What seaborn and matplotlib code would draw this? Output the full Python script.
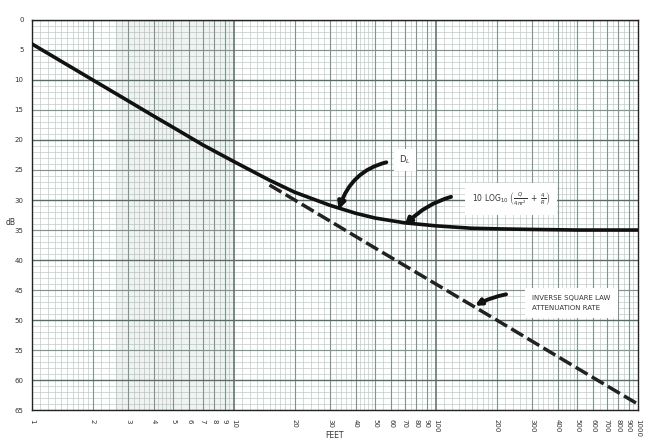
import numpy as np
import pandas as pd
import matplotlib
matplotlib.use("Agg")
import matplotlib.pyplot as plt
import seaborn as sns

# ---- data ----
feet_total = [1, 2, 3, 4, 5, 7, 10, 15, 20, 30, 40, 50, 70, 100, 150, 200, 300, 500, 1000]
db_total = [4.0, 10.0, 13.5, 16.0, 17.9, 20.8, 23.6, 26.7, 28.7, 30.9, 32.2, 33.0, 33.8, 34.3, 34.7, 34.8, 34.9, 35.0, 35.0]

feet_inverse = [15, 20, 50, 100, 200, 500, 1000]
db_inverse = [27.5, 30.0, 38.0, 44.0, 50.0, 58.0, 64.0]

x_tick_values = [1, 2, 3, 4, 5, 6, 7, 8, 9, 10, 20, 30, 40, 50, 60, 70, 80, 90,
                 100, 200, 300, 400, 500, 600, 700, 800, 900, 1000]
x_tick_labels = [str(v) for v in x_tick_values]
y_tick_values = list(range(0, 70, 5))
y_tick_labels = [str(v) for v in y_tick_values]

total_df = pd.DataFrame({"feet": feet_total, "dB": db_total})
inverse_df = pd.DataFrame({"feet": feet_inverse, "dB": db_inverse})

sns.set_theme(style="white")
plt.rcParams['font.family'] = ['DejaVu Sans']

fig = plt.figure(figsize=(6.51, 4.42), dpi=100)
ax = fig.add_axes([0.049, 0.072, 0.931, 0.883])
ax.set_xscale("log")
ax.set_xlim(1, 1000)
ax.set_ylim(65, 0)

# ---- graph-paper grid ----
light = "#b7c8c1"
mid = "#7e948c"
heavy = "#566e65"
for d in [1, 10, 100]:
    fine = list(np.arange(1, 2, 0.1)) + list(np.arange(2, 5, 0.2)) + list(np.arange(5, 10, 0.5))
    for f in fine:
        if abs(f - round(f)) < 1e-9:
            continue
        ax.axvline(round(f, 2) * d, color=light, lw=0.45, zorder=0)
    for k in range(2, 10):
        ax.axvline(k * d, color=mid, lw=0.8, zorder=0.5)
for d in [10, 100]:
    ax.axvline(d, color=heavy, lw=1.1, zorder=0.6)
for yv in range(0, 66):
    if yv % 10 == 0:
        ax.axhline(yv, color=heavy, lw=1.0, zorder=0.6)
    elif yv % 5 == 0:
        ax.axhline(yv, color=mid, lw=0.85, zorder=0.5)
    else:
        ax.axhline(yv, color=light, lw=0.45, zorder=0)
ax.axvspan(2.6, 10, color="#6f8a80", alpha=0.10, zorder=0)

# ---- curves ----
sns.lineplot(data=inverse_df, x="feet", y="dB", ax=ax, color="#222222", lw=2.5,
             zorder=3, legend=False)
ax.lines[-1].set_dashes([4, 1.4])
sns.lineplot(data=total_df, x="feet", y="dB", ax=ax, color="#111111", lw=2.6,
             zorder=4, legend=False)

# ---- ticks ----
ax.set_xticks(x_tick_values)
ax.set_xticklabels(x_tick_labels, rotation=-90, fontsize=5, color="#333333")
ax.xaxis.set_minor_locator(matplotlib.ticker.NullLocator())
ax.set_yticks(y_tick_values)
ax.set_yticklabels(y_tick_labels, fontsize=5, color="#333333")
ax.tick_params(axis="both", length=0, pad=6)
ax.set_xlabel("FEET", fontsize=5.5, color="#333333")
ax.xaxis.set_label_coords(0.5, -0.053)
ax.set_ylabel("dB", fontsize=5.5, color="#333333", rotation=0)
ax.yaxis.set_label_coords(-0.035, 0.47)
for s in ax.spines.values():
    s.set_color("#222222")
    s.set_linewidth(1.0)

# ---- annotations ----
arrow_kw = dict(arrowstyle="-|>,head_length=0.7,head_width=0.35", color="#111111", lw=2.8)
ax.annotate("D$_L$", xy=(33, 31.6), xytext=(66, 23.3), fontsize=6, color="#333333",
            ha="left", va="center",
            bbox=dict(boxstyle="square,pad=0.6", fc="white", ec="none"),
            arrowprops=dict(connectionstyle="arc3,rad=0.35", shrinkA=6, shrinkB=0, **arrow_kw),
            zorder=5)
ax.annotate(r"10 LOG$_{10}$ $\left(\frac{Q}{4\pi r^2}\ +\ \frac{4}{R}\right)$",
            xy=(70, 34.2), xytext=(150, 29.8), fontsize=5.5, color="#333333",
            ha="left", va="center",
            bbox=dict(boxstyle="square,pad=0.9", fc="white", ec="none"),
            arrowprops=dict(connectionstyle="arc3,rad=0.3", shrinkA=10, shrinkB=0, **arrow_kw),
            zorder=5)
ax.annotate("INVERSE SQUARE LAW\nATTENUATION RATE", xy=(156, 47.6), xytext=(300, 47.2),
            fontsize=5, color="#333333", ha="left", va="center", linespacing=1.8,
            bbox=dict(boxstyle="square,pad=1.0", fc="white", ec="none"),
            arrowprops=dict(connectionstyle="arc3,rad=0.25", shrinkA=14, shrinkB=0, **arrow_kw),
            zorder=5)

fig.savefig("out.png", dpi=100, facecolor="white")
